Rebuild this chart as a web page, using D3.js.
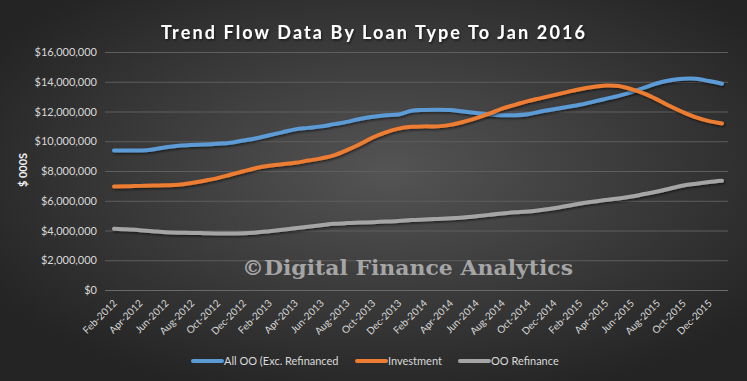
<!doctype html>
<html lang="en">
<head>
    <meta charset="utf-8" />
    <title>Trend Flow Data By Loan Type To Jan 2016</title>
    <script src="https://d3js.org/d3.v7.min.js"></script>
    <style>
        body { margin: 0; background: #2b2b2b; }
        svg { display: block; }
        text { font-family: Lato, "Open Sans", sans-serif; }
    </style>
</head>
<body>
<div id="chart"></div>
<script>
    // months Feb-2012 .. Jan-2016
    var months = [];
    var monthNames = ["Jan","Feb","Mar","Apr","May","Jun","Jul","Aug","Sep","Oct","Nov","Dec"];
    for (var y = 2012; y <= 2016; y++) {
        monthNames.forEach(function (m, k) {
            if ((y === 2012 && k === 0) || (y === 2016 && k > 0)) return;
            months.push(m + "-" + y);
        });
    }

    // values in $ millions (chart shows $ 000s)
    var allOO = [9.38, 9.38, 9.38, 9.45, 9.6, 9.7, 9.75, 9.78, 9.83, 9.9,
        10.05, 10.2, 10.4, 10.6, 10.8, 10.9, 11.0, 11.15, 11.3, 11.5,
        11.65, 11.75, 11.8, 12.05, 12.1, 12.12, 12.1, 12.0, 11.9, 11.8,
        11.75, 11.75, 11.82, 12.0, 12.15, 12.3, 12.45, 12.65, 12.85, 13.05,
        13.3, 13.6, 13.9, 14.1, 14.2, 14.2, 14.05, 13.87];
    var investment = [6.96, 6.97, 7.0, 7.02, 7.04, 7.08, 7.2, 7.35, 7.52, 7.75,
        7.98, 8.2, 8.35, 8.45, 8.55, 8.7, 8.85, 9.05, 9.4, 9.8,
        10.25, 10.6, 10.85, 10.97, 11.0, 11.0, 11.1, 11.3, 11.55, 11.85,
        12.2, 12.45, 12.7, 12.9, 13.1, 13.3, 13.5, 13.65, 13.75, 13.72,
        13.5, 13.2, 12.8, 12.35, 11.95, 11.6, 11.35, 11.2];
    var ooRefinance = [4.12, 4.08, 4.02, 3.95, 3.88, 3.85, 3.84, 3.82, 3.8, 3.8,
        3.82, 3.86, 3.95, 4.05, 4.15, 4.25, 4.35, 4.45, 4.5, 4.53,
        4.56, 4.6, 4.64, 4.7, 4.74, 4.78, 4.82, 4.88, 4.96, 5.05,
        5.15, 5.22, 5.27, 5.38, 5.5, 5.65, 5.8, 5.93, 6.05, 6.15,
        6.28, 6.45, 6.62, 6.82, 7.02, 7.15, 7.26, 7.34];

    var seriesNames = ["All OO (Exc. Refinanced", "Investment", "OO Refinance"];
    var seriesColors = ["#5b9bd5", "#ed7d31", "#a5a5a5"];
    var yTicks = [0, 2, 4, 6, 8, 10, 12, 14, 16];

    var width = 747, height = 381;
    var plot = { left: 105, right: 728, top: 52, bottom: 290 };

    var svg = d3.select("#chart").append("svg")
        .attr("width", width)
        .attr("height", height);

    var defs = svg.append("defs");
    var grad = defs.append("radialGradient")
        .attr("id", "bg")
        .attr("cx", "52%").attr("cy", "45%").attr("r", "62%");
    grad.append("stop").attr("offset", "0%").attr("stop-color", "#545454");
    grad.append("stop").attr("offset", "100%").attr("stop-color", "#242424");

    var shadow = defs.append("filter").attr("id", "shadow")
        .attr("x", "-5%").attr("y", "-20%").attr("width", "110%").attr("height", "140%");
    shadow.append("feDropShadow")
        .attr("dx", 1).attr("dy", 1.5).attr("stdDeviation", 1.2)
        .attr("flood-color", "#000").attr("flood-opacity", 0.55);

    svg.append("rect")
        .attr("width", width).attr("height", height)
        .attr("fill", "url(#bg)");

    var x = d3.scalePoint().domain(months).range([114, 722]);
    var yScale = d3.scaleLinear().domain([0, 16]).range([plot.bottom, plot.top]);

    // gridlines + y labels
    var yAxis = d3.axisLeft(yScale)
        .tickValues(yTicks)
        .tickSize(-(plot.right - plot.left))
        .tickPadding(8)
        .tickFormat(d => d === 0 ? "$0" : "$" + d3.format(",")(d * 1000000));

    var gy = svg.append("g")
        .attr("transform", `translate(${plot.left},0)`)
        .call(yAxis);
    gy.select(".domain").remove();
    gy.selectAll(".tick line")
        .attr("stroke", d => d === 0 ? "#6a6a6a" : "#5e5e5e")
        .attr("stroke-width", 1);
    gy.selectAll(".tick text")
        .attr("fill", "#d9d9d9")
        .style("font-size", "11px");

    // x axis labels, every other month
    var xAxis = d3.axisBottom(x)
        .tickValues(months.filter((d, i) => i % 2 === 0))
        .tickSize(0);
    var gx = svg.append("g")
        .attr("transform", `translate(0,${plot.bottom})`)
        .call(xAxis);
    gx.select(".domain").remove();
    gx.selectAll(".tick text")
        .attr("fill", "#d9d9d9")
        .style("font-size", "10px")
        .attr("text-anchor", "end")
        .attr("dy", null)
        .attr("y", 0)
        .attr("transform", "translate(3,14) rotate(-45)");

    // watermark
    svg.append("text")
        .attr("x", 242).attr("y", 275)
        .attr("textLength", 331)
        .attr("lengthAdjust", "spacingAndGlyphs")
        .attr("fill", "#b9b9b9")
        .attr("fill-opacity", 0.85)
        .style("font-family", "'DejaVu Serif', serif")
        .style("font-weight", "bold")
        .style("font-size", "21px")
        .text("\u00a9Digital Finance Analytics");

    // lines
    var allSeries = [allOO, investment, ooRefinance];
    var line = d3.line()
        .x((d, i) => x(months[i]))
        .y(d => yScale(d))
        .curve(d3.curveCatmullRom.alpha(0.5));

    svg.append("g").selectAll("path")
        .data(allSeries)
        .enter().append("path")
        .attr("d", line)
        .attr("fill", "none")
        .attr("stroke", (d, i) => seriesColors[i])
        .attr("stroke-width", 4)
        .attr("stroke-linecap", "round")
        .attr("filter", "url(#shadow)");

    // title
    svg.append("text")
        .attr("x", 161).attr("y", 39)
        .attr("textLength", 424)
        .attr("lengthAdjust", "spacing")
        .attr("fill", "#ffffff")
        .style("font-weight", "bold")
        .style("font-size", "18px")
        .attr("filter", "url(#shadow)")
        .text("Trend Flow Data By Loan Type To Jan 2016");

    // y axis title
    svg.append("text")
        .attr("transform", "translate(27,170) rotate(-90)")
        .attr("text-anchor", "middle")
        .attr("fill", "#f2f2f2")
        .style("font-weight", "bold")
        .style("font-size", "11px")
        .text("$ 000S");

    // legend
    var legendX = [193, 357, 460];
    var legend = svg.append("g").selectAll("g")
        .data(seriesNames)
        .enter().append("g")
        .attr("transform", (d, i) => `translate(${legendX[i]},361)`);
    legend.append("line")
        .attr("x1", 0).attr("x2", 29)
        .attr("stroke", (d, i) => seriesColors[i])
        .attr("stroke-width", 4)
        .attr("stroke-linecap", "round");
    legend.append("text")
        .attr("x", 31).attr("dy", "0.35em")
        .attr("fill", "#d9d9d9")
        .style("font-size", "11px")
        .text(d => d);
</script>
</body>
</html>
